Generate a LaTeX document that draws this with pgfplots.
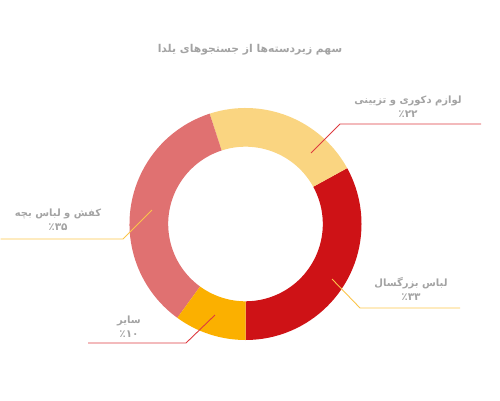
\documentclass[border=0pt]{standalone}
\usepackage{fontspec}
\usepackage{pgfplots}
\usepackage{pgfplotstable}
\pgfplotsset{compat=1.18}
\TeXXeTstate=1
\newfontfamily\arabicfont[Script=Arabic]{DejaVu Sans}
\definecolor{cRed}{HTML}{CE1216}
\definecolor{cDecor}{HTML}{FAD581}
\definecolor{cKids}{HTML}{E07171}
\definecolor{cOther}{HTML}{FBB000}
\definecolor{lnRed}{HTML}{DD3B40}
\definecolor{lnYel}{HTML}{FBC54A}
\definecolor{txt}{HTML}{A3A3A3}
\pgfplotstableread[col sep=comma]{
label,value
adult,33
decor,22
kids,35
other,10
}\slices
\pgfplotstablegetelem{0}{value}\of\slices\pgfmathsetmacro\aA{-90+3.6*\pgfplotsretval}
\pgfplotstablegetelem{1}{value}\of\slices\pgfmathsetmacro\aB{\aA+3.6*\pgfplotsretval}
\pgfplotstablegetelem{2}{value}\of\slices\pgfmathsetmacro\aC{\aB+3.6*\pgfplotsretval}
\pgfplotstablegetelem{3}{value}\of\slices\pgfmathsetmacro\aD{\aC+3.6*\pgfplotsretval}
\def\Ro{116pt}\def\Ri{77.3pt}\def\Rd{-38.7pt}
\newcommand\pct[1]{{\fontsize{10.5}{14}\selectfont #1}}
\begin{document}%
\begin{tikzpicture}
\begin{axis}[x=1pt,y=1pt,xmin=0,xmax=500,ymin=0,ymax=400,hide axis,clip=false]
\path (axis cs:0,0) rectangle (axis cs:500,400);
\fill[cRed] (axis cs:245.5,176) ++(-90:\Ro) arc[start angle=-90,end angle=\aA,radius=\Ro] -- ++(\aA:\Rd) arc[start angle=\aA,end angle=-90,radius=\Ri] -- cycle;
\fill[cDecor] (axis cs:245.5,176) ++(\aA:\Ro) arc[start angle=\aA,end angle=\aB,radius=\Ro] -- ++(\aB:\Rd) arc[start angle=\aB,end angle=\aA,radius=\Ri] -- cycle;
\fill[cKids] (axis cs:245.5,176) ++(\aB:\Ro) arc[start angle=\aB,end angle=\aC,radius=\Ro] -- ++(\aC:\Rd) arc[start angle=\aC,end angle=\aB,radius=\Ri] -- cycle;
\fill[cOther] (axis cs:245.5,176) ++(\aC:\Ro) arc[start angle=\aC,end angle=\aD,radius=\Ro] -- ++(\aD:\Rd) arc[start angle=\aD,end angle=\aC,radius=\Ri] -- cycle;
% leader lines
\draw[lnRed,line width=0.9pt] (axis cs:311,247) -- (axis cs:340,276) -- (axis cs:481,276);
\draw[lnYel,line width=0.9pt] (axis cs:152,190) -- (axis cs:123,161) -- (axis cs:0.5,161);
\draw[lnYel,line width=0.9pt] (axis cs:332,121) -- (axis cs:360,92) -- (axis cs:460,92);
\draw[lnRed,line width=0.9pt] (axis cs:215,85) -- (axis cs:186,57) -- (axis cs:88,57);
% texts
\node[txt,font=\arabicfont\bfseries\fontsize{10.8}{13}\selectfont] at (axis cs:250,350) {\beginR سهم زیردسته‌ها از جستجوهای یلدا\endR};
\node[txt,align=center,font=\arabicfont\bfseries\fontsize{10}{14}\selectfont] at (axis cs:408,293) {\beginR لوازم دکوری و تزیینی\endR\\\pct{٪۲۲}};
\node[txt,align=center,font=\arabicfont\bfseries\fontsize{10}{14}\selectfont] at (axis cs:58,180) {\beginR کفش و لباس بچه\endR\\\pct{٪۳۵}};
\node[txt,align=center,font=\arabicfont\bfseries\fontsize{10}{14}\selectfont] at (axis cs:411,111) {\beginR لباس بزرگسال\endR\\\pct{٪۳۳}};
\node[txt,align=center,font=\arabicfont\bfseries\fontsize{10}{14}\selectfont] at (axis cs:129,73) {\beginR سایر\endR\\\pct{٪۱۰}};
\end{axis}
\end{tikzpicture}%
\end{document}
